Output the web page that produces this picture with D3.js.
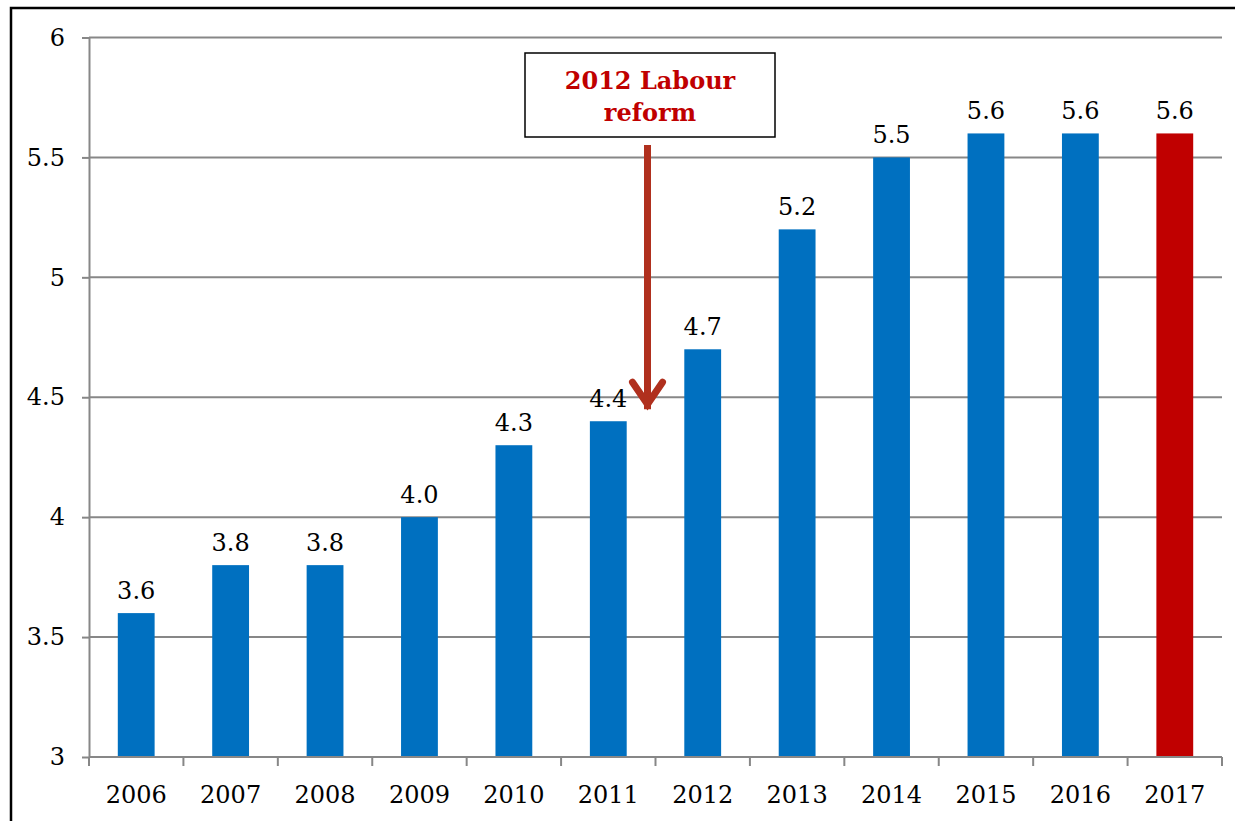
<!DOCTYPE html>
<html>
<head>
<meta charset="utf-8">
<script src="https://cdn.jsdelivr.net/npm/d3@7"></script>
<style>
  body { margin: 0; background: #fff; }
  text { font-family: "DejaVu Serif", serif; }
</style>
</head>
<body>
<svg id="canvas" width="1235" height="821"></svg>
<script>
// chart data
let years = ['2006', '2007', '2008', '2009', '2010', '2011', '2012', '2013', '2014', '2015', '2016', '2017'];
let values = [3.6, 3.8, 3.8, 4.0, 4.3, 4.4, 4.7, 5.2, 5.5, 5.6, 5.6, 5.6];
let yTicks = [3, 3.5, 4, 4.5, 5, 5.5, 6];
let noteLines = ['2012 Labour', 'reform'];

const svg = d3.select('#canvas');

// outer frame (only top and left edges show in the picture)
svg.append('rect')
    .attr('x', 11).attr('y', 8)
    .attr('width', 1300).attr('height', 900)
    .attr('fill', 'none')
    .attr('stroke', '#000')
    .attr('stroke-width', 2.5);

let x = d3.scaleBand().domain(years).range([89, 1222]).padding(0);
let y = d3.scaleLinear().domain([3, 6]).range([757, 37.5]);
let barW = x.bandwidth() * 0.39;

// gridlines
svg.append('g')
    .selectAll('line')
    .data(yTicks.slice(1))
    .join('line')
    .attr('x1', 89).attr('x2', 1222)
    .attr('y1', d => y(d)).attr('y2', d => y(d))
    .attr('stroke', '#878787')
    .attr('stroke-width', 2);

// y axis
let yAxis = svg.append('g')
    .attr('transform', 'translate(89,0)')
    .call(d3.axisLeft(y).tickValues(yTicks).tickSize(7).tickSizeOuter(0).tickPadding(17)
        .tickFormat(d => d3.format('~g')(d)));
yAxis.selectAll('line, path').attr('stroke', '#878787').attr('stroke-width', 2);
yAxis.selectAll('text').attr('font-size', 24).attr('fill', '#000')
    .attr('font-family', '"DejaVu Serif", serif');

// bars
svg.append('g')
    .selectAll('rect')
    .data(values)
    .join('rect')
    .attr('x', (d, i) => x(years[i]) + (x.bandwidth() - barW) / 2)
    .attr('width', barW)
    .attr('y', d => y(d))
    .attr('height', d => y(3) - y(d))
    .style('fill', (d, i) => i === years.length - 1 ? '#C00000' : '#0070C0');

// x axis (ticks at band edges)
let xg = svg.append('g');
xg.append('line')
    .attr('x1', 89).attr('x2', 1222)
    .attr('y1', y(3)).attr('y2', y(3))
    .attr('stroke', '#878787').attr('stroke-width', 2);
xg.selectAll('line.tick')
    .data(years.concat(['end']))
    .join('line')
    .attr('class', 'tick')
    .attr('x1', (d, i) => 89 + i * x.step())
    .attr('x2', (d, i) => 89 + i * x.step())
    .attr('y1', y(3)).attr('y2', y(3) + 9)
    .attr('stroke', '#878787').attr('stroke-width', 2);
xg.selectAll('text')
    .data(years)
    .join('text')
    .attr('x', d => x(d) + x.bandwidth() / 2)
    .attr('y', 803)
    .attr('text-anchor', 'middle')
    .attr('font-size', 24)
    .text(d => d);

// value labels
svg.append('g')
    .selectAll('text')
    .data(values)
    .join('text')
    .attr('x', (d, i) => x(years[i]) + x.bandwidth() / 2)
    .attr('y', d => y(d) - 14)
    .attr('text-anchor', 'middle')
    .attr('font-size', 24)
    .text(d => d3.format('.1f')(d));

// annotation box + arrow
let arrowX = x('2012') - 8;
svg.append('line')
    .attr('x1', arrowX).attr('x2', arrowX)
    .attr('y1', 145).attr('y2', y(4.45))
    .attr('stroke', '#B0301E')
    .attr('stroke-width', 7);
svg.append('polyline')
    .attr('points', [[arrowX - 15, y(4.45) - 27], [arrowX, y(4.45) - 5], [arrowX + 15, y(4.45) - 27]].join(' '))
    .attr('fill', 'none')
    .attr('stroke', '#B0301E')
    .attr('stroke-width', 7)
    .attr('stroke-linecap', 'round');

svg.append('rect')
    .attr('x', 525).attr('y', 53)
    .attr('width', 250).attr('height', 84)
    .attr('fill', '#fff')
    .attr('stroke', '#000')
    .attr('stroke-width', 1.5);
svg.append('g')
    .selectAll('text')
    .data(noteLines)
    .join('text')
    .attr('x', 650)
    .attr('y', (d, i) => 89 + i * 32)
    .attr('text-anchor', 'middle')
    .attr('font-size', 24)
    .attr('font-weight', 'bold')
    .attr('fill', '#C00000')
    .text(d => d);
</script>
</body>
</html>
